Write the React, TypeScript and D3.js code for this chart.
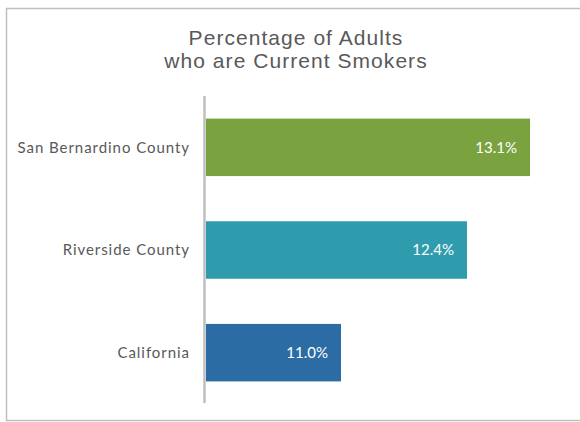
import React from "react";
import * as d3 from "d3";

const categories = ["San Bernardino County", "Riverside County", "California"];
const values = [13.1, 12.4, 11.0];
const colors = ["#7aa33f", "#2e9cad", "#2c6ca4"];
const titleLines = ["Percentage of Adults", "who are Current Smokers"];

export default function App() {
  const W = 580, H = 422;
  const x = d3.scaleLinear().domain([9.5, 14]).range([206, 611]);
  const y = d3.scaleBand().domain(categories).range([96, 404]).paddingInner(0.44).paddingOuter(0.22);
  const fmt = d3.format(".1f");
  return (
    <svg width={W} height={H} style={{ position: "absolute", left: 0, top: 0 }}>
      <rect x={6.5} y={8.5} width={600} height={412} fill="#fff" stroke="#bfbfbf" strokeWidth={1.5} />
      {titleLines.map((t, i) => (
        <text key={i} x={296} y={45 + i * 23} textAnchor="middle" fontFamily="Liberation Sans, Arial, sans-serif" fontSize={21} letterSpacing={1.05} fill="#595959">{t}</text>
      ))}
      {categories.map((c, i) => {
        const by = y(c)!;
        const bh = y.bandwidth();
        return (
          <g key={c}>
            <rect x={x(9.5)} y={by} width={x(values[i]) - x(9.5)} height={bh} fill={colors[i]} />
            <text x={x(values[i]) - 13} y={by + bh / 2} dy="0.35em" textAnchor="end" fontFamily="Lato, sans-serif" fontSize={15} fill="#ffffff">{fmt(values[i])}%</text>
            <text x={190} y={by + bh / 2} dy="0.35em" textAnchor="end" fontFamily="Lato, sans-serif" fontSize={15} letterSpacing={0.95} fill="#595959">{c}</text>
          </g>
        );
      })}
      <line x1={204.5} x2={204.5} y1={96} y2={403} stroke="#bfbfbf" strokeWidth={2.5} />
    </svg>
  );
}
